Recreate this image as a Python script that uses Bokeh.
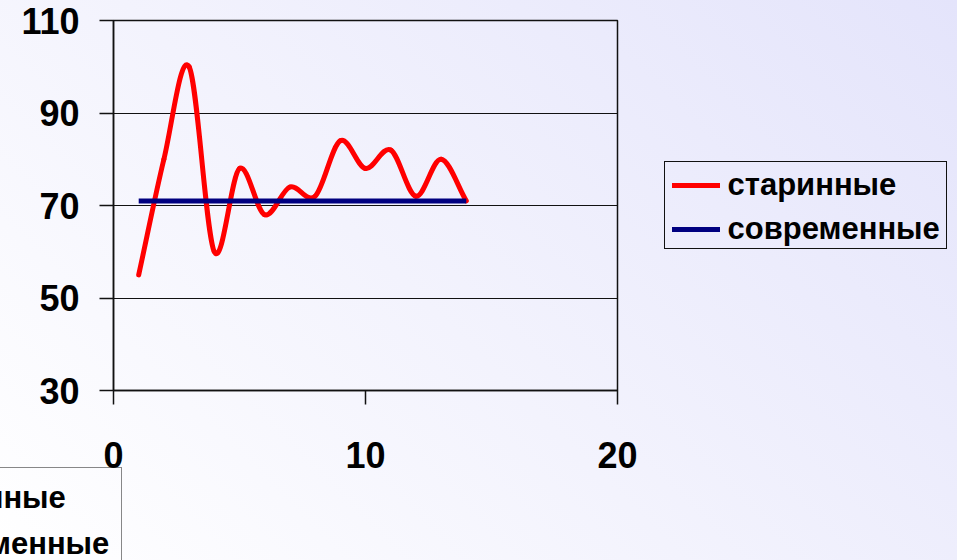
from bokeh.plotting import figure
from bokeh.models import Range1d, FixedTicker, Legend, LegendItem, Div
from bokeh.layouts import column
from bokeh.embed import file_html
from bokeh.resources import INLINE

# ---- data ----
x_values = [1, 2, 3, 4, 5, 6, 7, 8, 9, 10, 11, 12, 13, 14]
old_values = [55, 80, 100, 60, 78, 68, 74, 72, 84, 78, 82, 72, 80, 71]
modern_values = [71, 71, 71, 71, 71, 71, 71, 71, 71, 71, 71, 71, 71, 71]
series_names = ["старинные", "современные"]
x_ticks = [0, 10, 20]
y_ticks = [30, 50, 70, 90, 110]

FONT = "Liberation Sans"
RED = "#ff0000"
NAVY = "#000080"
series_colors = [RED, NAVY]

p = figure(width=957, height=560, output_backend="svg", toolbar_location=None,
           x_range=Range1d(0, 20), y_range=Range1d(30, 110),
           min_border_left=113, min_border_right=340,
           min_border_top=20, min_border_bottom=170)

p.background_fill_color = None
p.border_fill_color = None
p.outline_line_color = "#111111"
p.outline_line_width = 1.5

# axes
p.xaxis.ticker = FixedTicker(ticks=x_ticks)
p.yaxis.ticker = FixedTicker(ticks=y_ticks)
for ax in (p.xaxis[0], p.yaxis[0]):
    ax.axis_line_color = "#111111"
    ax.axis_line_width = 1.5
    ax.major_tick_line_color = "#111111"
    ax.major_tick_line_width = 1.5
    ax.major_tick_in = 0
    ax.major_tick_out = 14
    ax.minor_tick_line_color = None
    ax.major_label_text_font = FONT
    ax.major_label_text_font_style = "bold"
    ax.major_label_text_font_size = "36px"
    ax.major_label_text_color = "black"
p.yaxis.major_label_standoff = 20
p.xaxis.major_label_standoff = 37

p.xgrid.grid_line_color = None
p.ygrid.grid_line_color = "#111111"
p.ygrid.grid_line_width = 1.2

# smoothed (Bezier, Catmull-Rom style) curve through the read points
n = len(x_values)
x0, y0, x1, y1, cx0, cy0, cx1, cy1 = [], [], [], [], [], [], [], []
for i in range(n - 1):
    ip = max(i - 1, 0)
    inn = min(i + 2, n - 1)
    fa = 6.0 if i > 0 else 3.0
    fb = 6.0 if i + 2 <= n - 1 else 3.0
    x0.append(x_values[i]); y0.append(old_values[i])
    x1.append(x_values[i + 1]); y1.append(old_values[i + 1])
    cx0.append(x_values[i] + (x_values[i + 1] - x_values[ip]) / fa)
    cy0.append(old_values[i] + (old_values[i + 1] - old_values[ip]) / fa)
    cx1.append(x_values[i + 1] - (x_values[inn] - x_values[i]) / fb)
    cy1.append(old_values[i + 1] - (old_values[inn] - old_values[i]) / fb)

r_old = p.bezier(x0=x0, y0=y0, x1=x1, y1=y1, cx0=cx0, cy0=cy0, cx1=cx1, cy1=cy1,
                 line_color=RED, line_width=5, line_cap="round")
r_new = p.line(x_values, modern_values, line_color=NAVY, line_width=5)

# ---- second copy of the legend, mostly outside the slide at the bottom-left ----
p_cut = figure(width=120, height=93, output_backend="svg", toolbar_location=None,
               x_range=Range1d(100, 101), y_range=Range1d(100, 101),
               x_axis_location=None, y_axis_location=None,
               min_border_left=0, min_border_right=0, min_border_top=0, min_border_bottom=0)
p_cut.background_fill_color = None
p_cut.border_fill_color = None
p_cut.outline_line_color = None
p_cut.grid.grid_line_color = None
q_old = p_cut.line(x_values, old_values, line_color=RED, line_width=5)
q_new = p_cut.line(x_values, modern_values, line_color=NAVY, line_width=5)
legend_cut = Legend(items=[LegendItem(label=series_names[0], renderers=[q_old]),
                           LegendItem(label=series_names[1], renderers=[q_new])],
                    location=(-174, -15))
legend_cut.label_text_font = FONT
legend_cut.label_text_font_style = "bold"
legend_cut.label_text_font_size = "31px"
legend_cut.label_text_color = "black"
legend_cut.border_line_color = "#111111"
legend_cut.border_line_width = 1.5
legend_cut.background_fill_alpha = 0
legend_cut.glyph_width = 48
legend_cut.glyph_height = 30
legend_cut.label_height = 30
legend_cut.label_standoff = 10
legend_cut.padding = 12
legend_cut.spacing = 10
legend_cut.margin = 0
p_cut.add_layout(legend_cut, "center")
p_cut.styles = {"position": "absolute", "left": "0px", "top": "467px"}

# ---- main legend to the right of the plot area ----
rows = ""
for name, col in zip(series_names, series_colors):
    rows += ('<div style="display:flex;align-items:center;height:40px;margin-bottom:4px;'
             'white-space:nowrap;">'
             f'<span style="display:inline-block;width:48px;height:5px;background:{col};'
             'margin-right:8px;flex:none;"></span>'
             f'<span>{name}</span></div>')
legend_html = ('<div style="box-sizing:border-box;width:283px;height:88px;'
               'border:1.5px solid #111111;padding:3px 0 0 6.5px;'
               f"font-family:'{FONT}';font-weight:bold;font-size:31px;color:black;"
               'line-height:40px;overflow:visible;">' + rows + '</div>')
legend_div = Div(text=legend_html, width=290, height=95)
legend_div.styles = {"position": "absolute", "left": "664px", "top": "161px",
                     "margin": "0px"}

page = column(p, p_cut, legend_div, width=957, height=560)
page.styles = {"position": "relative",
               "background": "linear-gradient(45deg, #ffffff 0%, #f3f3fd 45%, #e4e4fb 100%)"}

open("out.html", "w").write(file_html(page, INLINE))
